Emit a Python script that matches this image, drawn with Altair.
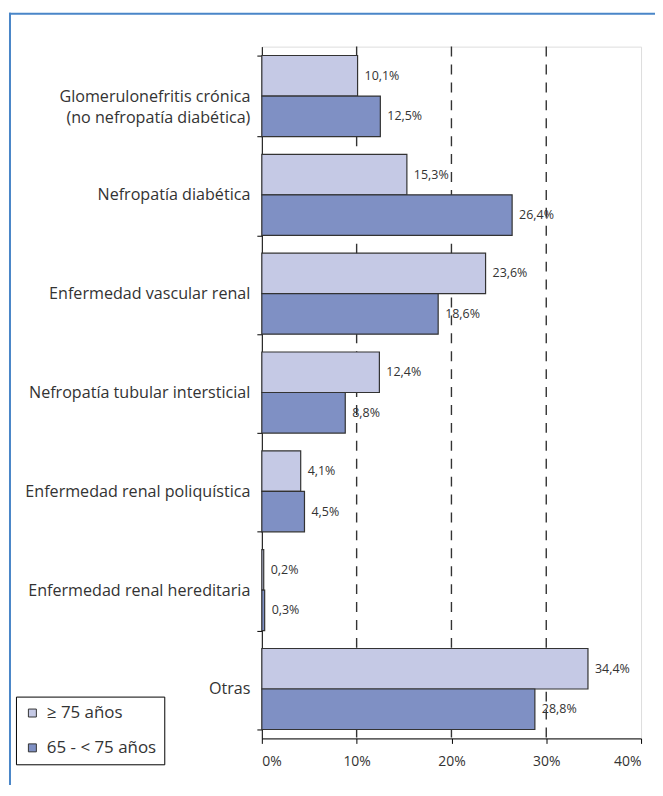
import altair as alt
import pandas as pd

categories = [
    "Glomerulonefritis crónica|(no nefropatía diabética)",
    "Nefropatía diabética",
    "Enfermedad vascular renal",
    "Nefropatía tubular intersticial",
    "Enfermedad renal poliquística",
    "Enfermedad renal hereditaria",
    "Otras",
]
groups = ["≥ 75 años", "65 - < 75 años"]
values_75plus = [10.1, 15.3, 23.6, 12.4, 4.1, 0.2, 34.4]
values_65_75 = [12.5, 26.4, 18.6, 8.8, 4.5, 0.3, 28.8]
x_ticks = [0, 10, 20, 30, 40]
grid_vals = [10, 20, 30]

rows = []
for c, a, b in zip(categories, values_75plus, values_65_75):
    rows.append({"cat": c, "grp": groups[0], "val": a})
    rows.append({"cat": c, "grp": groups[1], "val": b})
df = pd.DataFrame(rows)
df["label"] = df["val"].map(lambda v: f"{v:.1f}".replace(".", ",") + "%")

FONT = "Open Sans"
TXT = "#333333"
light, dark = "#C5C9E5", "#7F90C4"

yenc = alt.Y("cat:N", sort=categories, title=None,
             scale=alt.Scale(paddingInner=0.18, paddingOuter=0.09),
             axis=alt.Axis(labelExpr="split(datum.label, '|')", labelFontSize=16.2,
                           labelColor=TXT, labelFont=FONT, tickBand="extent",
                           tickSize=5, tickColor="#000", domainColor="#000",
                           labelPadding=7, labelLineHeight=22, labelLimit=300))
yoff = alt.YOffset("grp:N", sort=groups, scale=alt.Scale(paddingInner=0, paddingOuter=0))
xenc = alt.X("val:Q", title=None,
             scale=alt.Scale(domain=[0, 40], nice=False),
             axis=alt.Axis(values=x_ticks, labelExpr="datum.value + '%'", grid=False,
                           labelFontSize=14, labelColor=TXT, labelFont=FONT,
                           tickSize=5, tickColor="#000", domainColor="#000",
                           labelPadding=11))

base = alt.Chart(df)

grid = alt.Chart(pd.DataFrame({"g": grid_vals})).mark_rule(
    color="#333", strokeWidth=1.4, strokeDash=[10, 8]
).encode(x=alt.X("g:Q", scale=alt.Scale(domain=[0, 40], nice=False)))

bars = base.mark_bar(stroke="#333", strokeWidth=1.2, opacity=1).encode(
    x=xenc, y=yenc, yOffset=yoff,
    color=alt.Color("grp:N", sort=groups, scale=alt.Scale(domain=groups, range=[light, dark]),
                    legend=alt.Legend(title=None, orient="none", legendX=-247, legendY=653,
                                      strokeColor="#000", padding=8, symbolType="square",
                                      symbolSize=64, symbolStrokeColor="#333",
                                      symbolStrokeWidth=1, symbolOpacity=1,
                                      labelFontSize=17, labelColor=TXT, labelFont=FONT,
                                      rowPadding=17, labelOffset=6)),
)

labels = base.mark_text(align="left", baseline="middle", dx=7, fontSize=12.5,
                        font=FONT, color=TXT).encode(
    x="val:Q", y=alt.Y("cat:N", sort=categories), yOffset=yoff, text="label:N"
)

frame_df = pd.DataFrame({"a": [0]})
frame_top = alt.Chart(frame_df).mark_rule(color="#4A86C8", strokeWidth=2).encode(
    x=alt.value(-254), x2=alt.value(420), y=alt.value(-33))
frame_left = alt.Chart(frame_df).mark_rule(color="#4A86C8", strokeWidth=2).encode(
    x=alt.value(-253), y=alt.value(-34), y2=alt.value(760))

chart = alt.layer(grid, bars, labels, frame_top, frame_left).properties(
    width=381, height=695,
    autosize=alt.AutoSizeParams(type="none"),
    padding={"left": 255, "top": 37, "right": 14, "bottom": 45},
).configure_view(stroke=None).configure(font=FONT)

chart.save("out.html", embed_options={"renderer": "svg", "actions": False})
